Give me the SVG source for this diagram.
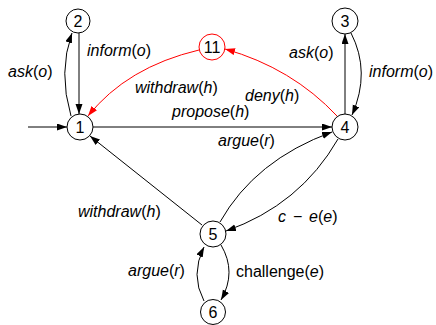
<svg xmlns="http://www.w3.org/2000/svg" width="436" height="325" viewBox="0 0 436 325">
<style>
.node circle{fill:#fff;stroke:#000;stroke-width:1}
.node text{font-family:"Liberation Sans",Arial,sans-serif;font-size:16px;text-anchor:middle;fill:#000}
.edge{fill:none;stroke:#000;stroke-width:1;marker-end:url(#ah)}
.red{stroke:#f00;marker-end:url(#ahr)}
.lbl{font-family:"Liberation Sans",Arial,sans-serif;font-size:16px;fill:#000}
.i{font-style:italic}
</style>
<defs>
<marker id="ah" markerUnits="userSpaceOnUse" markerWidth="10" markerHeight="8" refX="10" refY="3.5" orient="auto"><path d="M0,0 L10,3.5 L0,7 z" fill="#000"/></marker>
<marker id="ahr" markerUnits="userSpaceOnUse" markerWidth="10" markerHeight="8" refX="10" refY="3.5" orient="auto"><path d="M0,0 L10,3.5 L0,7 z" fill="#f00"/></marker>
</defs>
<g id="connectors">
<path class="edge" d="M28,127 L67,127"/>
<path class="edge" d="M71,116 Q58,72 72,33"/>
<path class="edge" d="M79,33 L79,114"/>
<path class="edge" d="M93,127 L332,127"/>
<path class="edge red" d="M199,50 Q127,67 88,116"/>
<path class="edge red" d="M337,116 Q292,68 225,49"/>
<path class="edge" d="M345,114 L345,34"/>
<path class="edge" d="M351,33 Q371,72 352,115"/>
<path class="edge" d="M220,222 Q255,160 332,132"/>
<path class="edge" d="M338,139 Q300,205 226,231"/>
<path class="edge" d="M202,225 L90,136"/>
<path class="edge" d="M204,301 Q190,275 204,247"/>
<path class="edge" d="M221,245 Q237,272 221,300"/>
</g>
<g id="labels">
<text class="lbl" x="8" y="77"><tspan class="i">ask</tspan>(<tspan class="i">o</tspan>)</text>
<text class="lbl" x="87" y="56"><tspan class="i">inform</tspan>(<tspan class="i">o</tspan>)</text>
<text class="lbl" x="135" y="93"><tspan class="i">withdraw</tspan>(<tspan class="i">h</tspan>)</text>
<text class="lbl" x="172" y="117"><tspan class="i">propose</tspan>(<tspan class="i">h</tspan>)</text>
<text class="lbl" x="245" y="101"><tspan class="i">deny</tspan>(<tspan class="i">h</tspan>)</text>
<text class="lbl" x="289" y="58"><tspan class="i">ask</tspan>(<tspan class="i">o</tspan>)</text>
<text class="lbl" x="369" y="77"><tspan class="i">inform</tspan>(<tspan class="i">o</tspan>)</text>
<text class="lbl" x="218" y="146"><tspan class="i">argue</tspan>(<tspan class="i">r</tspan>)</text>
<text class="lbl" y="222"><tspan class="i" x="278">c</tspan><tspan x="293">−</tspan><tspan class="i" x="309">e</tspan>(<tspan class="i">e</tspan>)</text>
<text class="lbl" x="78" y="217"><tspan class="i">withdraw</tspan>(<tspan class="i">h</tspan>)</text>
<text class="lbl" x="128" y="276"><tspan class="i">argue</tspan>(<tspan class="i">r</tspan>)</text>
<text class="lbl" x="236" y="277">challenge(<tspan class="i">e</tspan>)</text>
</g>
<g id="n1" class="node"><circle cx="80" cy="127" r="13"/><text x="80" y="133">1</text></g>
<g id="n2" class="node"><circle cx="78" cy="21" r="12"/><text x="78" y="27">2</text></g>
<g id="n11" class="node"><circle cx="212" cy="47" r="13" style="stroke:#f00"/><text x="212" y="53">11</text></g>
<g id="n3" class="node"><circle cx="345" cy="21" r="13"/><text x="345" y="27">3</text></g>
<g id="n4" class="node"><circle cx="345" cy="127" r="13"/><text x="345" y="133">4</text></g>
<g id="n5" class="node"><circle cx="213" cy="234" r="13"/><text x="213" y="240">5</text></g>
<g id="n6" class="node"><circle cx="213" cy="312" r="12.5"/><text x="213" y="318">6</text></g>
</svg>
